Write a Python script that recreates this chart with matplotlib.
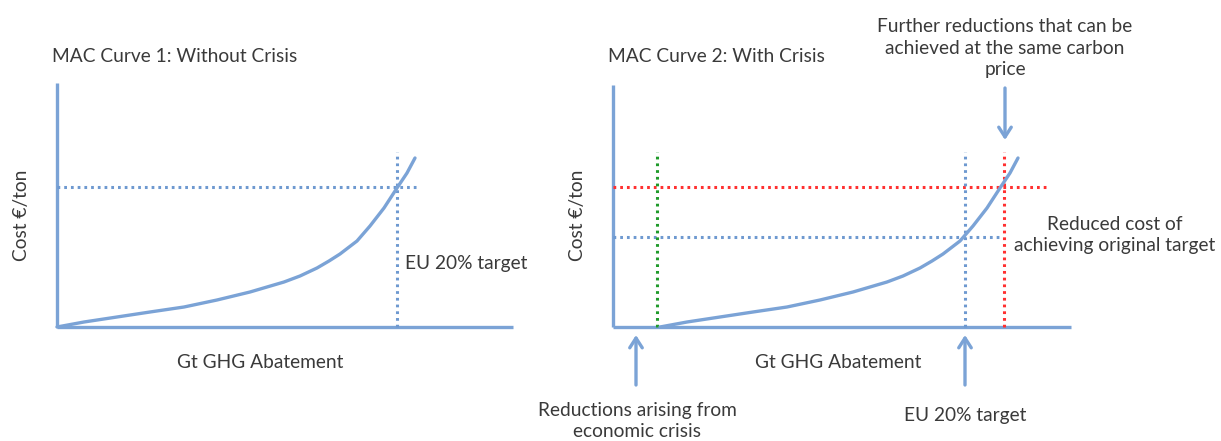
import matplotlib
matplotlib.use("Agg")
import matplotlib.pyplot as plt

plt.rcParams['font.family'] = ['Lato', 'DejaVu Sans']

# ---- data (schematic units, origin at axes corner) ----
curve_x = [0, 27, 60, 93, 127, 160, 193, 227, 243, 260, 272, 283, 300, 313, 327, 340, 350, 358]
curve_y = [0, 5, 10, 15, 20, 27, 35, 45, 51, 59, 66, 73, 86, 101, 119, 139, 154, 169]
crisis_shift = 47          # abatement from economic crisis
target_x = 340             # EU 20% target (panel 1)
target_x2 = 352            # EU 20% target (panel 2)
carbon_price = 140         # original carbon price
reduced_cost = 90          # reduced cost of achieving target
further_x = 391            # further reductions at same price
y_axis_top = 244
x_axis_end1 = 456
x_axis_end2 = 458
guide_top = 175

titles = ["MAC Curve 1: Without Crisis", "MAC Curve 2: With Crisis"]
ylabel = "Cost €/ton"
xlabel = "Gt GHG Abatement"

BLUE = '#7ba3d6'
DBLUE = '#6e99d0'
RED = '#ff3030'
GREEN = '#1f9a2a'
TXT = '#3a3a3a'
DOT = (0, (0.9, 1.3))
DLW = 2.2

W, H = 1221, 441
fig = plt.figure(figsize=(W / 100, H / 100), dpi=100)

def make_axes(px0, px1, ox, oy):
    ax = fig.add_axes([px0 / W, 0, (px1 - px0) / W, 1])
    ax.set_xlim(px0 - ox, px1 - ox)
    ax.set_ylim(-(H - oy), oy)
    ax.axis('off')
    return ax

ax1 = make_axes(0, 560, 57, 327)
ax2 = make_axes(560, 1221, 613, 327)

fs = 13.8

# ---------- panel 1 ----------
ax = ax1
ax.plot([0, 0], [0, y_axis_top], color=BLUE, lw=2.4, solid_capstyle='butt')
ax.plot([0, x_axis_end1], [0, 0], color=BLUE, lw=2.4, solid_capstyle='butt')
ax.plot([0, 363], [carbon_price, carbon_price], color=DBLUE, lw=DLW, ls=DOT)
ax.plot([target_x, target_x], [0, guide_top], color=DBLUE, lw=DLW, ls=DOT)
ax.plot(curve_x, curve_y, color=BLUE, lw=2.4, solid_capstyle='round', solid_joinstyle='round')
ax.text(-5, 270, titles[0], fontsize=fs, color=TXT, ha='left', va='center')
ax.text(-35, 112, ylabel, fontsize=fs, color=TXT, rotation=90, ha='center', va='center')
ax.text(203, -35, xlabel, fontsize=fs, color=TXT, ha='center', va='center')
ax.text(target_x + 8, 63, "EU 20% target", fontsize=fs, color=TXT, ha='left', va='center')

# ---------- panel 2 ----------
ax = ax2
cx2 = [x + crisis_shift for x in curve_x]
ax.plot([0, 0], [0, y_axis_top - 2], color=BLUE, lw=2.4, solid_capstyle='butt')
ax.plot([0, x_axis_end2], [0, 0], color=BLUE, lw=2.4, solid_capstyle='butt')
ax.plot([0, 435], [carbon_price, carbon_price], color=RED, lw=DLW, ls=DOT)
ax.plot([0, 389], [reduced_cost, reduced_cost], color=DBLUE, lw=DLW, ls=DOT)
ax.plot([crisis_shift - 3, crisis_shift - 3], [0, guide_top], color=GREEN, lw=DLW, ls=DOT)
ax.plot([target_x2, target_x2], [0, guide_top], color=DBLUE, lw=DLW, ls=DOT)
ax.plot([further_x, further_x], [0, guide_top], color=RED, lw=DLW, ls=DOT)
ax.plot(cx2, curve_y, color=BLUE, lw=2.4, solid_capstyle='round', solid_joinstyle='round')

arrow = dict(arrowstyle='->,head_length=0.7,head_width=0.45', color=BLUE, lw=2.4,
             shrinkA=0, shrinkB=0)
ax.annotate('', xy=(further_x + 1, 187), xytext=(further_x + 1, 239), arrowprops=arrow)
ax.annotate('', xy=(23, -8), xytext=(23, -58), arrowprops=arrow)
ax.annotate('', xy=(target_x2, -8), xytext=(target_x2, -58), arrowprops=arrow)

ax.text(-5, 270, titles[1], fontsize=fs, color=TXT, ha='left', va='center')
ax.text(-35, 112, ylabel, fontsize=fs, color=TXT, rotation=90, ha='center', va='center')
ax.text(225, -35, xlabel, fontsize=fs, color=TXT, ha='center', va='center')
ax.text(392, 279, "Further reductions that can be\nachieved at the same carbon\nprice",
        fontsize=fs, color=TXT, ha='center', va='center', linespacing=1.3)
ax.text(502, 92, "Reduced cost of\nachieving original target",
        fontsize=fs, color=TXT, ha='center', va='center', linespacing=1.25)
ax.text(24, -94, "Reductions arising from\neconomic crisis",
        fontsize=fs, color=TXT, ha='center', va='center', linespacing=1.25)
ax.text(target_x2, -88, "EU 20% target", fontsize=fs, color=TXT, ha='center', va='center')

fig.savefig('out.png', dpi=100)
